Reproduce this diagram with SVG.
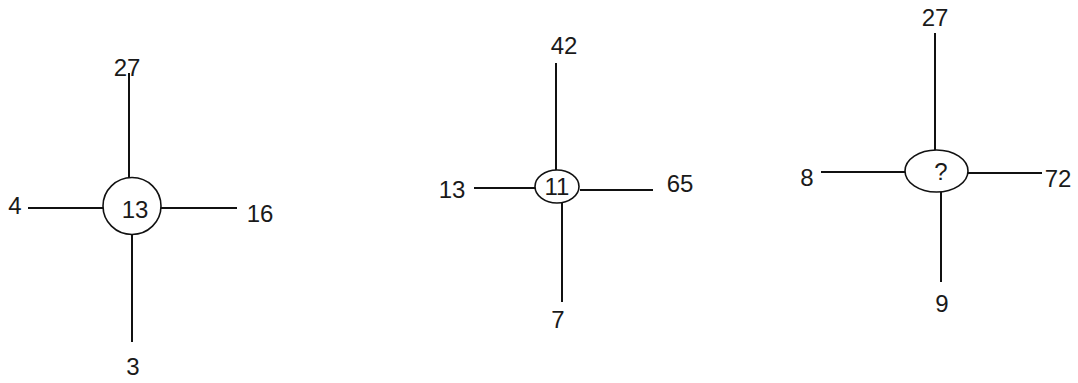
<svg xmlns="http://www.w3.org/2000/svg" width="1078" height="383" viewBox="0 0 1078 383">
<style>
.ln{stroke:#111;stroke-width:2;fill:none}
.nd{stroke:#111;stroke-width:1.6;fill:#fff}
.t{font-family:"Liberation Sans",Arial,sans-serif;font-size:24px;fill:#1a1a1a;text-anchor:middle}
</style>
<rect width="1078" height="383" fill="#fff"/>
<g id="connectors">
<line class="ln" x1="129" y1="73" x2="129" y2="178"/>
<line class="ln" x1="132" y1="234" x2="132" y2="342"/>
<line class="ln" x1="28" y1="208" x2="103" y2="208"/>
<line class="ln" x1="161" y1="208" x2="237" y2="208"/>
<line class="ln" x1="556" y1="63" x2="556" y2="170"/>
<line class="ln" x1="562" y1="203" x2="562" y2="302"/>
<line class="ln" x1="474" y1="188" x2="535" y2="188"/>
<line class="ln" x1="580" y1="190" x2="653" y2="190"/>
<line class="ln" x1="935" y1="33" x2="935" y2="150"/>
<line class="ln" x1="941" y1="192" x2="941" y2="282"/>
<line class="ln" x1="821" y1="172" x2="905" y2="172"/>
<line class="ln" x1="968" y1="173" x2="1042" y2="173"/>
</g>
<g id="node1">
<ellipse class="nd" cx="132" cy="206" rx="29" ry="28.5"/>
<text class="t" x="135" y="218">13</text>
</g>
<g id="node2">
<ellipse class="nd" cx="557" cy="186.5" rx="22" ry="16.5"/>
<text class="t" x="557" y="195">11</text>
</g>
<g id="node3">
<ellipse class="nd" cx="936.5" cy="171" rx="31.5" ry="21"/>
<text class="t" x="941" y="180">?</text>
</g>
<g id="labels">
<text class="t" x="127" y="76">27</text>
<text class="t" x="15" y="214">4</text>
<text class="t" x="260" y="222">16</text>
<text class="t" x="133" y="375">3</text>
<text class="t" x="564" y="54">42</text>
<text class="t" x="452" y="198">13</text>
<text class="t" x="680" y="192">65</text>
<text class="t" x="558" y="328">7</text>
<text class="t" x="935" y="26">27</text>
<text class="t" x="807" y="186">8</text>
<text class="t" x="1058" y="187">72</text>
<text class="t" x="942" y="312">9</text>
</g>
</svg>
